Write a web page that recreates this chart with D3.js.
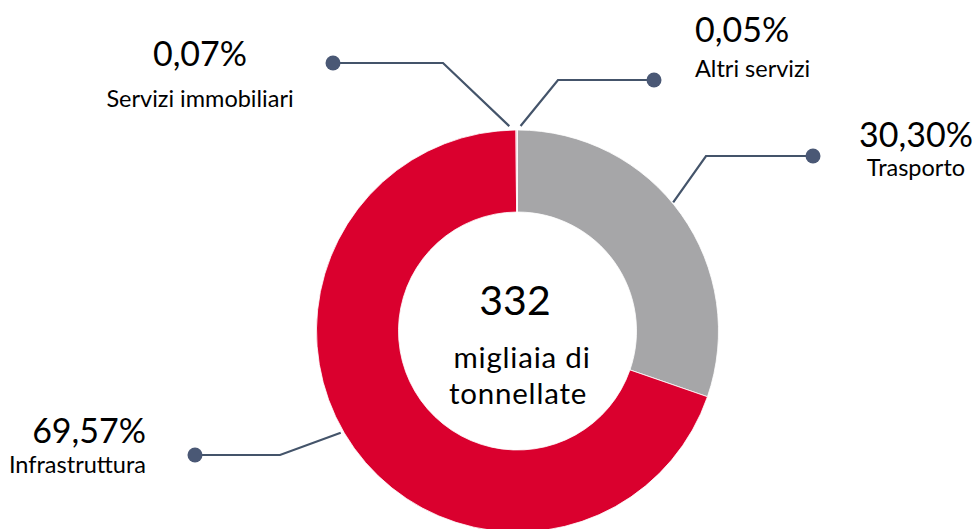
<!DOCTYPE html>
<html>
<head>
<meta charset="utf-8">
<script src="https://cdn.jsdelivr.net/npm/d3@7"></script>
<style>
  html, body { margin: 0; padding: 0; background: #fff; }
  svg { display: block; font-family: "Lato", "Noto Sans", sans-serif; }
</style>
</head>
<body>
<svg id="chart" width="979" height="529"></svg>
<script>
// Composition of the total, clockwise from 12 o'clock
const categories = ["Trasporto", "Infrastruttura", "Servizi immobiliari", "Altri servizi"];
const shares = [30.30, 69.57, 0.07, 0.05];
const shareLabels = ["30,30%", "69,57%", "0,07%", "0,05%"];
const sliceColors = ["#a6a6a8", "#da002e", "#da002e", "#a6a6a8"];
const centerLines = ["332", "migliaia di", "tonnellate"];

const svg = d3.select("#chart");
const cx = 517.5, cy = 331, rOuter = 201, rInner = 119;

const pie = d3.pie().sort(null).value(d => d)(shares);
const arc = d3.arc().innerRadius(rInner).outerRadius(rOuter);

const g = svg.append("g").attr("transform", `translate(${cx},${cy})`);
g.selectAll("path.slice")
  .data(pie)
  .join("path")
  .attr("class", "slice")
  .attr("d", arc)
  .attr("fill", (d, i) => sliceColors[i])
  .attr("stroke", "#fff")
  .attr("stroke-width", 0.8);

// Leader lines: start on the ring, bend, then run horizontally to a dot
const leaders = [
  { cat: "Trasporto",           angle: 0.88, r: 202, elbow: [706, 156], end: [813, 156] },
  { cat: "Infrastruttura",      angle: 4.19, r: 204, elbow: [280, 455], end: [195, 455] },
  { cat: "Servizi immobiliari", angle: -0.04, r: 205, elbow: [443, 63],  end: [333, 63] },
  { cat: "Altri servizi",       angle: 0.015, r: 205, elbow: [558, 80],  end: [654, 80] }
];
const leaderColor = "#44546a";
leaders.forEach(l => {
  const sx = cx + l.r * Math.sin(l.angle);
  const sy = cy - l.r * Math.cos(l.angle);
  svg.append("polyline")
    .attr("points", [[sx, sy], l.elbow, l.end].map(p => p.join(",")).join(" "))
    .attr("fill", "none")
    .attr("stroke", leaderColor)
    .attr("stroke-width", 2.2);
  svg.append("circle")
    .attr("cx", l.end[0]).attr("cy", l.end[1]).attr("r", 7.5)
    .attr("fill", "#4a5875");
});

// Labels: percentage above category name
const labelPos = {
  "Trasporto":           { x: 916, y1: 147, y2: 176, anchor: "middle" },
  "Infrastruttura":      { x: 146, y1: 443, y2: 473, anchor: "end" },
  "Servizi immobiliari": { x: 200, y1: 66,  y2: 107, anchor: "middle" },
  "Altri servizi":       { x: 695, y1: 42,  y2: 77,  anchor: "start" }
};
categories.forEach((c, i) => {
  const p = labelPos[c];
  svg.append("text")
    .attr("x", p.x).attr("y", p.y1)
    .attr("text-anchor", p.anchor)
    .attr("font-size", 34).attr("fill", "#000")
    .text(shareLabels[i]);
  svg.append("text")
    .attr("x", p.x).attr("y", p.y2)
    .attr("text-anchor", p.anchor)
    .attr("font-size", 23.5).attr("fill", "#000")
    .text(c);
});

// Total in the hole
svg.append("text")
  .attr("x", 515).attr("y", 315)
  .attr("text-anchor", "middle")
  .attr("font-size", 41).attr("fill", "#000")
  .text(centerLines[0]);
svg.append("text")
  .attr("x", 522).attr("y", 368)
  .attr("text-anchor", "middle")
  .attr("font-size", 29.5).attr("letter-spacing", 0.8).attr("fill", "#000")
  .text(centerLines[1]);
svg.append("text")
  .attr("x", 518).attr("y", 404)
  .attr("text-anchor", "middle")
  .attr("font-size", 29.5).attr("letter-spacing", 0.8).attr("fill", "#000")
  .text(centerLines[2]);
</script>
</body>
</html>
